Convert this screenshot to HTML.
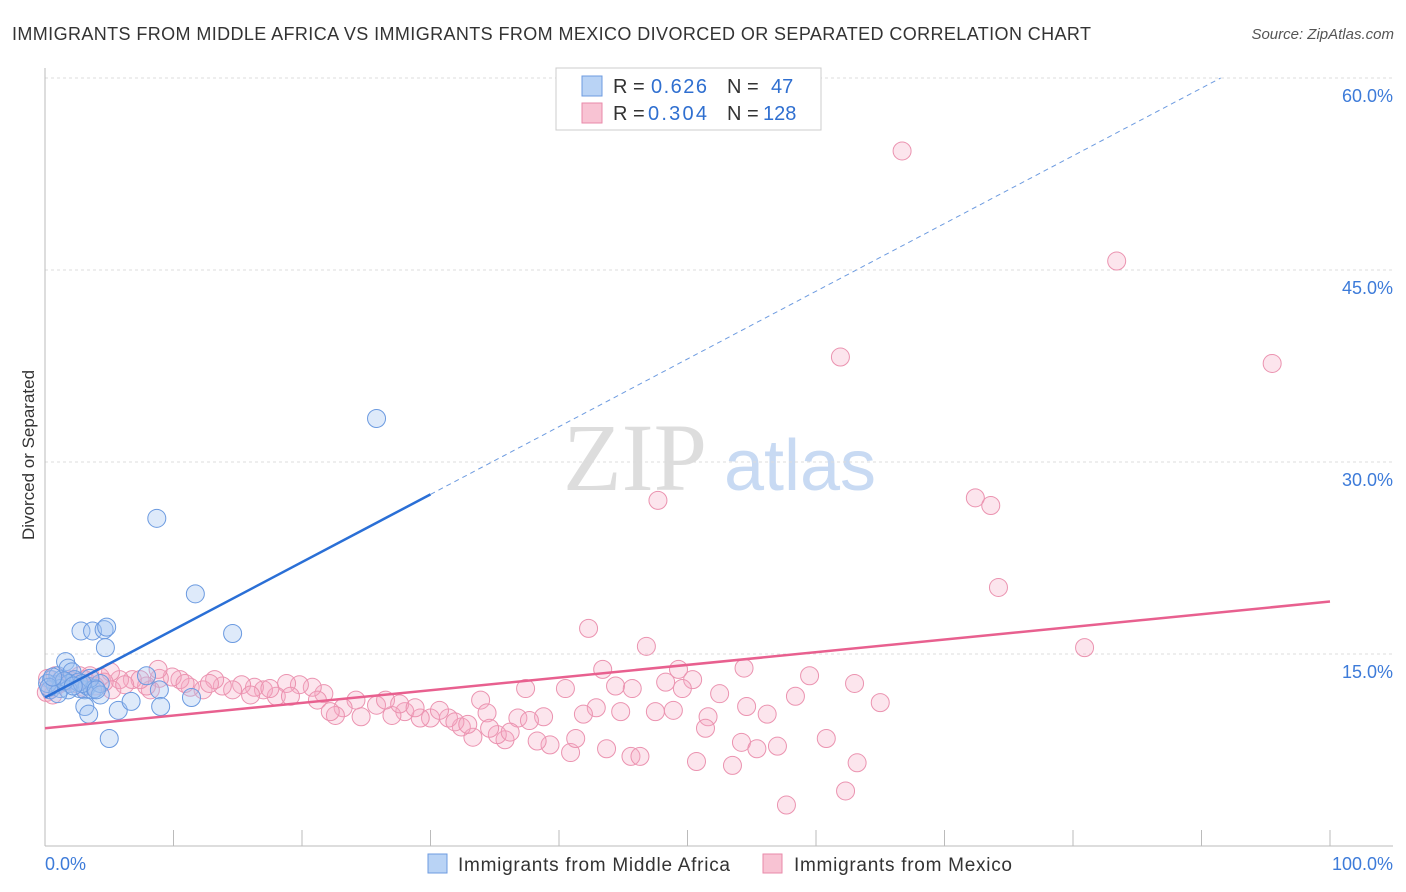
<!DOCTYPE html>
<html><head><meta charset="utf-8"><style>
body{margin:0;background:#fff;font-family:"Liberation Sans",sans-serif;}
svg{display:block}
</style></head><body>
<svg id="chart" width="1406" height="892">
<text x="12" y="40" font-size="18" fill="#333" textLength="1079" lengthAdjust="spacing">IMMIGRANTS FROM MIDDLE AFRICA VS IMMIGRANTS FROM MEXICO DIVORCED OR SEPARATED CORRELATION CHART</text>
<text x="1394" y="39" font-size="15" fill="#555" font-style="italic" text-anchor="end">Source: ZipAtlas.com</text>
<text x="34" y="455" font-size="17" fill="#333" transform="rotate(-90 34 455)" text-anchor="middle">Divorced or Separated</text>
<g><text x="635" y="490" font-size="96" fill="#ddd" font-family="Liberation Serif,serif" text-anchor="middle">ZIP</text><text x="800" y="490" font-size="72" fill="#c8daf3" text-anchor="middle">atlas</text></g>
<g id="grid"></g><g id="marks"></g>
<g>
<rect x="556" y="68" width="265" height="62" fill="#fff" stroke="#ccc"/>
<rect x="582" y="76" width="20" height="20" fill="#b9d3f5" stroke="#6d9be0"/>
<rect x="582" y="103" width="20" height="20" fill="#f8c3d3" stroke="#e98aa9"/>
<text x="613" y="93" font-size="20" fill="#333">R =</text><text x="651" y="93" font-size="20" fill="#2f6fd0" textLength="56">0.626</text>
<text x="727" y="93" font-size="20" fill="#333">N =</text><text x="771" y="93" font-size="20" fill="#2f6fd0">47</text>
<text x="613" y="120" font-size="20" fill="#333">R =</text><text x="648" y="120" font-size="20" fill="#2f6fd0" textLength="59">0.304</text>
<text x="727" y="120" font-size="20" fill="#333">N =</text><text x="763" y="120" font-size="20" fill="#2f6fd0">128</text>
</g>
<g>
<rect x="428" y="854" width="19" height="19" fill="#b9d3f5" stroke="#6d9be0"/>
<text x="458" y="871" font-size="19" fill="#333" textLength="272" lengthAdjust="spacing">Immigrants from Middle Africa</text>
<rect x="763" y="854" width="19" height="19" fill="#f8c3d3" stroke="#e98aa9"/>
<text x="794" y="871" font-size="19" fill="#333" textLength="218" lengthAdjust="spacing">Immigrants from Mexico</text>
</g>
<text x="45" y="870" font-size="18" fill="#3d7bd9">0.0%</text>
<text x="1393" y="870" font-size="18" fill="#3d7bd9" text-anchor="end">100.0%</text>
</svg>
<script>
const yTicks=[15,30,45,60];
const yTickLabels=["15.0%","30.0%","45.0%","60.0%"];
const xTicks=[0,10,20,30,40,50,60,70,80,90,100];
const blueX=[0.5,0.8,1.0,1.3,1.6,1.8,2.1,2.3,2.7,3.1,3.3,3.7,3.9,4.3,2.8,3.7,4.6,4.8,4.7,4.3,3.1,3.4,5.7,6.7,5.0,8.7,11.7,14.6,7.9,8.9,9.0,11.4,25.8,0.4,1.2,1.9,2.6,3.5,0.2,1.8,2.9,1.0,0.3,1.5,2.2,4.0,0.6];
const blueY=[13.0,12.6,13.3,13.0,14.4,13.9,13.6,13.0,12.3,12.2,12.5,12.2,12.3,12.7,16.8,16.8,16.9,17.1,15.5,11.8,10.9,10.3,10.6,11.3,8.4,25.6,19.7,16.6,13.3,12.2,10.9,11.6,33.4,12.2,12.3,12.7,12.8,13.1,12.7,12.2,12.7,11.9,12.4,12.9,12.5,12.2,13.2];
const pinkX=[66.7,83.4,61.9,95.5,47.7,72.4,73.6,74.2,80.9,42.3,46.8,43.4,49.3,50.4,54.4,59.5,63.0,65.0,58.4,52.5,48.3,49.6,44.4,45.7,40.5,37.4,33.9,42.9,44.8,41.9,47.5,48.9,54.6,56.2,51.6,51.4,38.8,36.8,34.4,54.2,55.4,57.0,60.8,50.7,53.5,63.2,62.3,57.7,43.7,45.6,46.3,40.9,41.3,39.3,38.3,35.8,35.2,33.3,32.4,31.4,30.0,29.2,28.0,27.0,25.8,24.6,24.2,23.2,22.6,21.7,20.8,19.8,18.8,18.0,17.0,16.3,15.3,14.6,13.8,13.2,12.3,11.3,10.5,9.9,8.9,8.8,8.2,7.9,6.8,5.8,5.1,4.3,3.5,2.7,1.9,1.2,0.4,0.2,0.8,1.5,2.3,3.1,3.9,5.2,7.4,10.9,12.8,16.0,17.5,19.1,21.2,22.2,26.5,27.6,28.8,30.7,31.9,32.9,34.6,36.2,37.7,0.1,0.6,1.0,2.0,3.0,4.6,6.2];
const pinkY=[54.3,45.7,38.2,37.7,27.0,27.2,26.6,20.2,15.5,17.0,15.6,13.8,13.8,13.0,13.9,13.3,12.7,11.2,11.7,11.9,12.8,12.3,12.5,12.3,12.3,12.3,11.4,10.8,10.5,10.3,10.5,10.6,10.9,10.3,10.1,9.2,10.1,10.0,10.4,8.1,7.6,7.8,8.4,6.6,6.3,6.5,4.3,3.2,7.6,7.0,7.0,7.3,8.4,7.9,8.2,8.3,8.7,8.5,9.3,10.0,10.0,10.0,10.5,10.2,11.0,10.1,11.4,10.8,10.2,11.9,12.4,12.6,12.7,11.7,12.2,12.4,12.6,12.2,12.5,13.0,12.2,12.4,13.0,13.2,13.1,13.8,12.2,12.5,13.0,13.0,13.6,13.2,13.3,13.3,13.0,12.7,12.2,13.1,13.3,12.8,12.7,13.0,12.5,12.2,13.0,12.7,12.7,11.8,12.3,11.7,11.4,10.5,11.4,11.1,10.8,10.6,9.7,9.5,9.2,8.9,9.8,12.0,11.8,12.6,12.9,12.4,12.8,12.6];
const blueLine=[11.6,64.5];
const pinkLine=[9.2,19.1];
const sx=v=>45+v*12.85, sy=v=>846-v*12.8;
const NS="http://www.w3.org/2000/svg";
function mk(tag,attrs,parent){const e=document.createElementNS(NS,tag);for(const k in attrs)e.setAttribute(k,attrs[k]);parent.appendChild(e);return e;}
const grid=document.getElementById('grid'),marks=document.getElementById('marks');
yTicks.forEach((t,i)=>{
 const l=mk('line',{x1:45,x2:1393,y1:sy(t),y2:sy(t),stroke:'#dcdcdc','stroke-dasharray':'3,3'},grid);
 
 
 const tx=mk('text',{x:1393,y:sy(t)+24,'font-size':18,fill:'#3d7bd9','text-anchor':'end'},grid);
 tx.textContent=yTickLabels[i];
 
 
});
const ya=mk('line',{x1:45,x2:45,y1:68,y2:846,stroke:'#bbb'},grid);


const xa=mk('line',{x1:45,x2:1393,y1:846,y2:846,stroke:'#bbb'},grid);


xTicks.forEach(t=>{
 const l=mk('line',{x1:sx(t),x2:sx(t),y1:830,y2:846,stroke:'#bbb'},grid);
 
 
});
pinkX.forEach((x,i)=>{
 const c=mk('circle',{cx:sx(x),cy:sy(pinkY[i]),r:9,fill:'rgba(244,170,195,0.3)',stroke:'#eb93b0','stroke-width':1},marks);
 
 
});
blueX.forEach((x,i)=>{
 const c=mk('circle',{cx:sx(x),cy:sy(blueY[i]),r:9,fill:'rgba(160,195,240,0.35)',stroke:'#6b9ae0','stroke-width':1},marks);
 
 
});
const by=x=>blueLine[0]+(blueLine[1]-blueLine[0])*x/100;
const xEnd=(60-blueLine[0])/(blueLine[1]-blueLine[0])*100;
const bl=mk('line',{x1:sx(0),y1:sy(by(0)),x2:sx(30),y2:sy(by(30)),stroke:'#2a6fd6','stroke-width':2.5},marks);


const bd=mk('line',{x1:sx(30),y1:sy(by(30)),x2:sx(xEnd),y2:sy(by(xEnd)),stroke:'#6d9be0','stroke-width':1,'stroke-dasharray':'5,4'},marks);


const pl=mk('line',{x1:sx(0),y1:sy(pinkLine[0]),x2:sx(100),y2:sy(pinkLine[1]),stroke:'#e8608f','stroke-width':2.5},marks);


</script>
</body></html>
